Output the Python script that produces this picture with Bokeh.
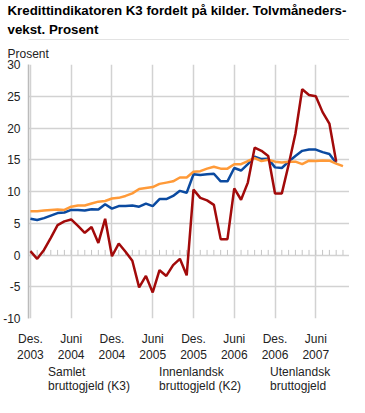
from bokeh.plotting import figure
from bokeh.models import Range1d, FixedTicker, Title, Legend, LegendItem
from bokeh.layouts import column
from bokeh.embed import file_html
from bokeh.resources import INLINE

title_lines = ["Kredittindikatoren K3 fordelt på kilder. Tolvmåneders-", "vekst. Prosent"]
unit_label = "Prosent"

tick_pos = [0, 6, 12, 18, 24, 30, 36, 42]
tick_labels = ["Des.\n2003", "Juni\n2004", "Des.\n2004", "Juni\n2005",
               "Des.\n2005", "Juni\n2006", "Des.\n2006", "Juni\n2007"]
y_ticks = [-10, -5, 0, 5, 10, 15, 20, 25, 30]
y_tick_labels = ["-10", "-5", "0", "5", "10", "15", "20", "25", "30"]

# Monthly values, Dec 2003 onwards
samlet_k3 = [5.7, 5.5, 5.8, 6.2, 6.6, 6.7, 7.1, 7.1, 7.0, 7.2, 7.15, 8.0, 7.3, 7.7, 7.7, 7.8,
             7.6, 8.1, 7.7, 8.8, 8.8, 9.3, 10.1, 9.8, 12.7, 12.6, 12.7, 12.8, 11.6, 11.6, 13.7,
             13.3, 14.3, 15.5, 15.1, 15.15, 13.8, 13.7, 14.7, 15.6, 16.4, 16.6, 16.6, 16.2,
             15.9, 14.5]
innenlandsk_k2 = [6.9, 6.9, 7.0, 7.1, 7.15, 7.1, 7.6, 7.8, 7.8, 8.1, 8.4, 8.5, 8.9, 9.0, 9.3,
                  9.7, 10.4, 10.55, 10.7, 11.2, 11.4, 11.6, 12.2, 12.2, 13.1, 13.2, 13.6, 13.9,
                  13.6, 13.6, 14.3, 14.3, 14.8, 15.25, 14.8, 15.0, 14.7, 14.55, 14.7, 14.7, 14.3,
                  14.85, 14.8, 14.9, 14.85, 14.4, 14.0]
utenlandsk = [0.6, -0.6, 0.8, 2.7, 4.7, 5.3, 5.6, 4.6, 3.5, 4.4, 1.9, 5.7, -0.2, 1.8, 0.5, -0.9,
              -5.1, -3.3, -5.9, -2.4, -3.3, -1.6, -0.6, -3.2, 10.3, 9.0, 8.6, 7.9, 2.5, 2.5, 10.5,
              8.7, 11.4, 16.9, 16.4, 15.6, 9.7, 9.7, 14.2, 19.1, 26.1, 25.2, 25.0, 22.5, 20.7, 14.7]

series_names = ["Samlet\nbruttogjeld (K3)", "Innenlandsk\nbruttogjeld (K2)", "Utenlandsk\nbruttogjeld"]
colors = ["#0b4aa0", "#ff9a38", "#a20a0a"]

FONT = "Liberation Sans"
W = 349
LEFT = 21
TITLE_H, CHART_H, FOOT_H = 40, 325, 31


def bare(fig):
    fig.grid.visible = False
    fig.outline_line_color = None


# ---------- title block (its 3px frame is the grey rule) ----------
tfig = figure(width=W, height=TITLE_H, x_range=Range1d(0, 1), y_range=Range1d(0, 1),
              x_axis_location=None, y_axis_location=None,
              output_backend="svg", toolbar_location=None,
              min_border_left=0, min_border_right=0, min_border_bottom=0,
              min_border_top=TITLE_H - 3,
              background_fill_color="#c8c8c8")
bare(tfig)
tfig.add_layout(Title(text=title_lines[1], align="left", offset=-LEFT, standoff=5,
                      text_font=FONT, text_font_size="13.3px", text_font_style="bold",
                      text_color="#000000"), "above")
tfig.add_layout(Title(text=title_lines[0], align="left", offset=-LEFT, standoff=0,
                      text_font=FONT, text_font_size="13.3px", text_font_style="bold",
                      text_color="#000000"), "above")

# ---------- chart ----------
p = figure(width=W, height=CHART_H, x_range=Range1d(-0.28, 46.96), y_range=Range1d(-10, 30),
           output_backend="svg", toolbar_location=None,
           min_border_left=LEFT, min_border_right=0, min_border_top=23, min_border_bottom=0)
p.outline_line_color = None
p.add_layout(Title(text=unit_label, align="left", offset=-LEFT, standoff=8,
                   text_font=FONT, text_font_size="12px", text_font_style="normal",
                   text_color="#222222"), "above")

p.xaxis.ticker = FixedTicker(ticks=tick_pos)
p.xaxis.major_label_overrides = {t: l for t, l in zip(tick_pos, tick_labels)}
p.yaxis.ticker = FixedTicker(ticks=y_ticks)
p.yaxis.major_label_overrides = {t: l for t, l in zip(y_ticks, y_tick_labels)}
for ax in (p.xaxis, p.yaxis):
    ax.major_tick_line_color = None
    ax.minor_tick_line_color = None
    ax.major_label_text_font = FONT
    ax.major_label_text_font_size = "12px"
    ax.major_label_text_color = "#222222"
p.xaxis.axis_line_color = None
p.yaxis.axis_line_color = "#bbbbbb"
p.yaxis.axis_line_width = 1.5
p.yaxis.major_label_standoff = 2
p.xaxis.major_label_standoff = 7

p.grid.grid_line_color = "#d2d2d2"
p.grid.grid_line_width = 1.5

x_all = list(range(len(innenlandsk_k2)))
x_short = x_all[:len(samlet_k3)]

# small month ticks on the zero line
p.segment(x0=x_all, y0=[0] * len(x_all), x1=x_all, y1=[0.8] * len(x_all),
          line_color="#c4c4c4", line_width=1)

p.line(x_short, samlet_k3, line_color=colors[0], line_width=2.5)
p.line(x_all, innenlandsk_k2, line_color=colors[1], line_width=2.5)
p.line(x_short, utenlandsk, line_color=colors[2], line_width=2.5)

# ---------- legend footer ----------
foot = figure(width=W, height=FOOT_H, x_range=Range1d(0, 1), y_range=Range1d(0, 1),
              x_axis_location=None, y_axis_location=None,
              output_backend="svg", toolbar_location=None,
              min_border=0, min_border_left=22)
bare(foot)
foot.background_fill_alpha = 0
keys = [foot.line(x=[], y=[], line_color=c, line_width=2.5) for c in colors]
legend = Legend(items=[LegendItem(label=n, renderers=[r]) for n, r in zip(series_names, keys)],
                orientation="horizontal", location="top_left",
                label_text_font=FONT, label_text_font_size="12px", label_text_color="#222222",
                label_text_line_height=1.05,
                glyph_width=15, glyph_height=12, label_standoff=5, spacing=9, padding=0, margin=0,
                border_line_color=None, background_fill_alpha=0)
foot.add_layout(legend)

layout = column(tfig, p, foot)
open("out.html", "w").write(file_html(layout, INLINE))
